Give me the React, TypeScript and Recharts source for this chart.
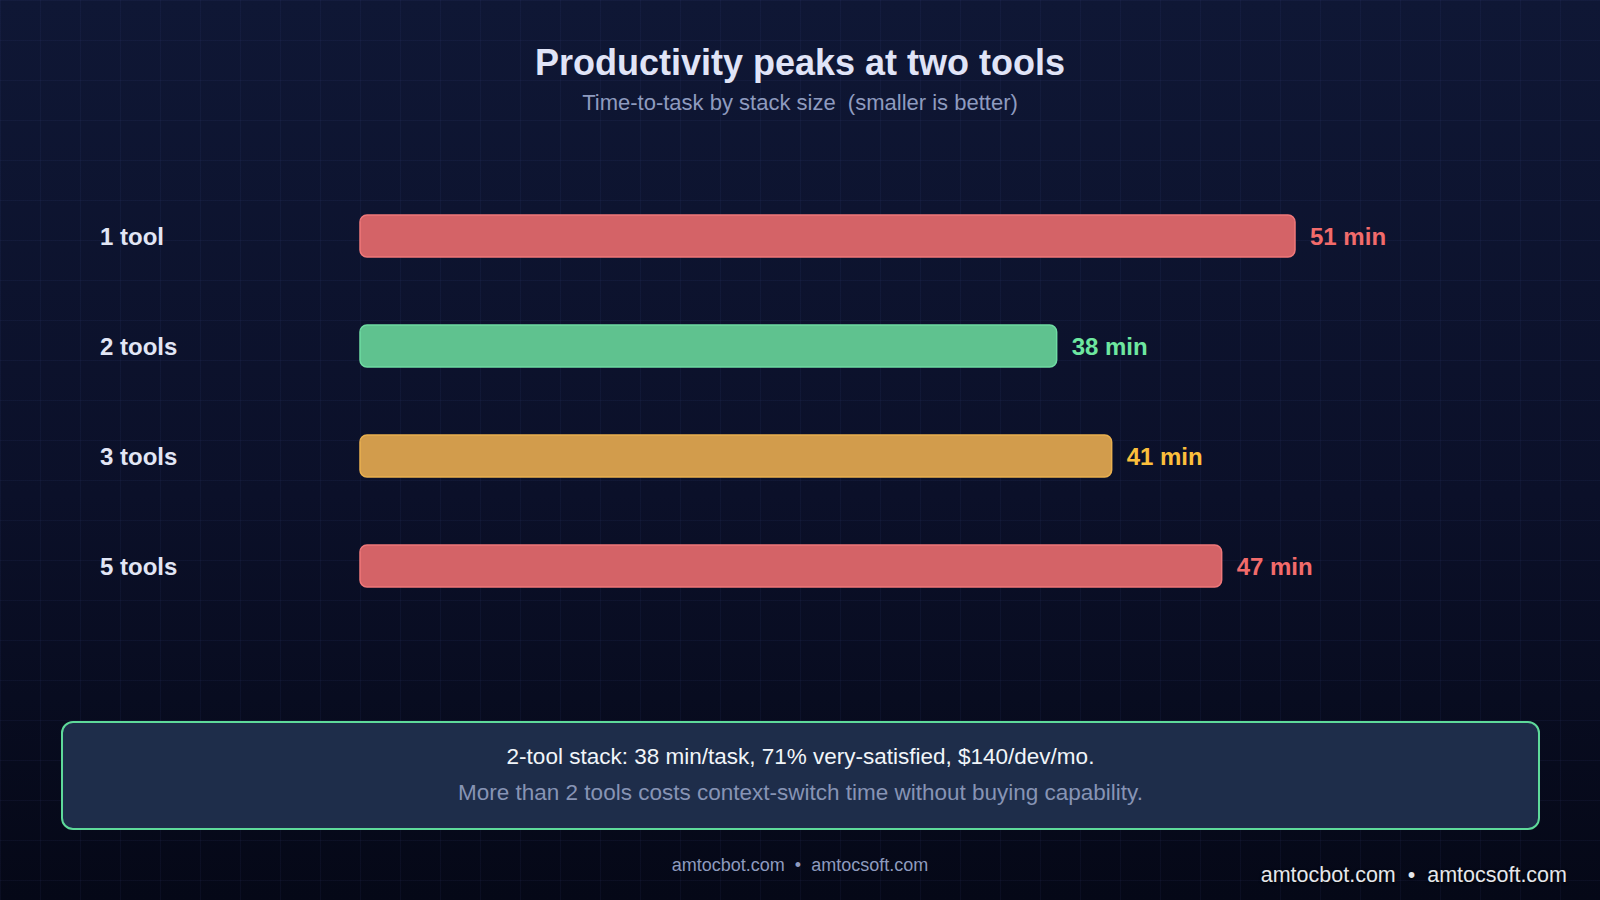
import React from 'react';
import { BarChart, Bar, XAxis, YAxis, Cell, LabelList } from 'recharts';

const stackSizes = ['1 tool', '2 tools', '3 tools', '5 tools'];
const minutesPerTask = [51, 38, 41, 47];
const barFills = ['#d46367', '#5fc28f', '#d29c4c', '#d46367'];
const barStrokes = ['#f0787a', '#6fdca3', '#eab04f', '#f0787a'];
const labelColors = ['#f26b6b', '#6ee7a0', '#fbbf3c', '#f26b6b'];

const data = stackSizes.map((name, i) => ({ name, minutes: minutesPerTask[i] }));

const FONT = '"Liberation Sans", Arial, Helvetica, sans-serif';

const CategoryTick = ({ y, payload }: any) => (
    <text x={100} y={y} dominantBaseline="central" textAnchor="start"
        fontFamily={FONT} fontSize={24} fontWeight={700} fill="#e2e6f5">
        {payload.value}
    </text>
);

const ValueLabel = ({ x, y, width, height, value, index }: any) => (
    <text x={x + width + 15} y={y + height / 2} dominantBaseline="central"
        fontFamily={FONT} fontSize={24} fontWeight={700} fill={labelColors[index]}>
        {value} min
    </text>
);

export default function App() {
    return (
        <div style={{
            position: 'absolute', left: 0, top: 0, width: 1600, height: 900, overflow: 'hidden',
            fontFamily: FONT,
            backgroundColor: '#0b1128',
            backgroundImage: [
                'linear-gradient(rgba(90,110,190,0.07) 1px, transparent 1px)',
                'linear-gradient(90deg, rgba(90,110,190,0.07) 1px, transparent 1px)',
                'linear-gradient(180deg, #0f1735 0%, #0b1029 55%, #050817 100%)'
            ].join(','),
            backgroundSize: '40px 40px, 40px 40px, 100% 100%'
        }}>
            {/* Title */}
            <div style={{ position: 'absolute', top: 42, left: 0, width: 1600, textAlign: 'center',
                fontSize: 36, lineHeight: '42px', fontWeight: 700, color: '#e0e4f7' }}>
                Productivity peaks at two tools
            </div>
            <div style={{ position: 'absolute', top: 90, left: 0, width: 1600, textAlign: 'center',
                fontSize: 22, lineHeight: '26px', color: '#8e9bbf', whiteSpace: 'pre' }}>
                Time-to-task by stack size  (smaller is better)
            </div>

            {/* Chart */}
            <div style={{ position: 'absolute', left: 0, top: 0 }}>
                <BarChart width={1600} height={900} data={data} layout="vertical"
                    margin={{ top: 181, right: 140, bottom: 279, left: 0 }}>
                    <XAxis type="number" domain={[0, 60]} hide />
                    <YAxis type="category" dataKey="name" width={360} axisLine={false}
                        tickLine={false} tick={<CategoryTick />} />
                    <Bar dataKey="minutes" barSize={42} radius={7} strokeWidth={1.5}
                        isAnimationActive={false}>
                        {data.map((d, i) => (
                            <Cell key={d.name} fill={barFills[i]} stroke={barStrokes[i]} />
                        ))}
                        <LabelList dataKey="minutes" content={<ValueLabel />} />
                    </Bar>
                </BarChart>
            </div>

            {/* Takeaway box */}
            <div style={{ position: 'absolute', left: 61, top: 721, width: 1479, height: 109,
                boxSizing: 'border-box', border: '2px solid #5ed99a', borderRadius: 12,
                background: '#1e2d4a', textAlign: 'center' }}>
                <div style={{ position: 'absolute', top: 21, left: 0, width: '100%', fontSize: 22.5,
                    lineHeight: '26px', color: '#f1f5f9' }}>
                    2-tool stack: 38 min/task, 71% very-satisfied, $140/dev/mo.
                </div>
                <div style={{ position: 'absolute', top: 57, left: 0, width: '100%', fontSize: 22.5,
                    lineHeight: '26px', color: '#8794b5' }}>
                    More than 2 tools costs context-switch time without buying capability.
                </div>
            </div>

            {/* Footer */}
            <div style={{ position: 'absolute', top: 855, left: 0, width: 1600, textAlign: 'center',
                fontSize: 18, lineHeight: '20px', color: '#8e9bbf' }}>
                amtocbot.com&nbsp;&nbsp;•&nbsp;&nbsp;amtocsoft.com
            </div>
            <div style={{ position: 'absolute', top: 862, right: 33, fontSize: 21.5, lineHeight: '26px',
                color: '#e5e7eb', textShadow: '0 1px 3px rgba(0,0,0,0.9)' }}>
                amtocbot.com&nbsp;&nbsp;•&nbsp;&nbsp;amtocsoft.com
            </div>
        </div>
    );
}
